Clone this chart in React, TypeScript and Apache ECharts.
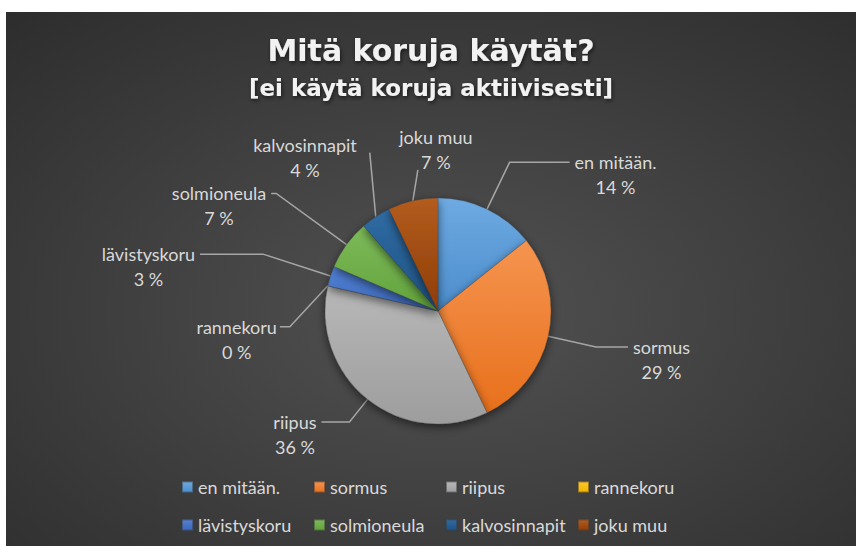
import React, { useEffect, useRef } from 'react';
import * as echarts from 'echarts';

const categories = ['en mitään.', 'sormus', 'riipus', 'rannekoru', 'lävistyskoru', 'solmioneula', 'kalvosinnapit', 'joku muu'];
const counts = [10, 20, 25, 0, 2, 5, 3, 5];
const titleText = 'Mitä koruja käytät?';
const subtitleText = '[ei käytä koruja aktiivisesti]';
const colorsTop = ['#6eaae2', '#f5944f', '#b8b8b8', '#ffc72a', '#5382d6', '#7dba59', '#2f6ba3', '#b35c20'];
const colorsBottom = ['#4b8dcc', '#e8701c', '#9d9d9d', '#f0b400', '#3b67b9', '#62a33c', '#1f5283', '#8f3d05'];
// leader line styling (first segment, second segment) per slice
const leaderLen1 = [52, 49, 29, 20, 71, 87, 80, 40];
const leaderLen2 = [60, 32, 28, 25, 63, 5, 8, 2];

// custom leader styles (relative to the slice's own arc anchor) for a few labels
type Leader = { dx: number; dy: number; stub: number; lx: number; ly: number; align: string; va: string };
const customLeaders: Record<number, Leader> = {
  3: { dx: -38, dy: 41, stub: -10, lx: -3, ly: 0, align: 'right', va: 'middle' },
  6: { dx: -6, dy: -64, stub: 0, lx: -13, ly: -8, align: 'right', va: 'middle' },
  7: { dx: 5, dy: -31, stub: 0, lx: 18, ly: 5, align: 'center', va: 'bottom' },
};

export default function App() {
  const ref = useRef<HTMLDivElement>(null);
  useEffect(() => {
    const chart = echarts.init(ref.current!, undefined, { renderer: 'svg' });
    const font = 'Lato, "Noto Sans", sans-serif';
    const textColor = '#d9d9d9';
    const legends = [0, 1, 2, 3].map((i) => ({
      orient: 'vertical',
      left: 175 + 132 * i,
      top: 465,
      padding: 0,
      itemWidth: 11,
      itemHeight: 11,
      itemGap: 18,
      icon: 'rect',
      data: [categories[i], categories[i + 4]],
      textStyle: { color: textColor, fontSize: 18, fontFamily: font, lineHeight: 20 },
    }));
    chart.setOption({
      animation: false,
      backgroundColor: {
        type: 'radial', x: 0.52, y: 0.56, r: 0.95,
        colorStops: [
          { offset: 0, color: '#525252' },
          { offset: 1, color: '#242424' },
        ],
      },
      title: [
        {
          text: titleText, left: 'center', top: 20, padding: 0,
          textStyle: {
            color: '#f2f2f2', fontFamily: '"DejaVu Sans", sans-serif', fontWeight: 'bold', fontSize: 30, lineHeight: 36,
            textShadowColor: 'rgba(0,0,0,0.6)', textShadowBlur: 4, textShadowOffsetX: 1, textShadowOffsetY: 2,
          },
        },
        {
          text: subtitleText, left: 'center', top: 62, padding: 0,
          textStyle: {
            color: '#f2f2f2', fontFamily: '"DejaVu Sans", sans-serif', fontWeight: 'bold', fontSize: 23, lineHeight: 28,
            textShadowColor: 'rgba(0,0,0,0.6)', textShadowBlur: 4, textShadowOffsetX: 1, textShadowOffsetY: 2,
          },
        },
      ],
      legend: legends,
      series: [
        {
          type: 'pie',
          center: [432, 299],
          radius: 113,
          startAngle: 90,
          clockwise: true,
          percentPrecision: 0,
          avoidLabelOverlap: false,
          data: categories.map((name, i) => ({
            name,
            value: counts[i],
            labelLine: { length: leaderLen1[i], length2: leaderLen2[i] },
            itemStyle: {
              color: {
                type: 'linear', x: 0, y: 0, x2: 0, y2: 1,
                colorStops: [
                  { offset: 0, color: colorsTop[i] },
                  { offset: 1, color: colorsBottom[i] },
                ],
              },
            },
          })),
          itemStyle: {
            borderWidth: 0.5,
            borderColor: 'rgba(60,60,60,0.5)',
            shadowBlur: 10,
            shadowColor: 'rgba(0,0,0,0.55)',
            shadowOffsetY: 3,
          },
          label: {
            show: true,
            position: 'outside',
            formatter: '{n|{b}}\n{p|{d} %}',
            padding: [25, 0, 0, 0],
            rich: {
              n: { align: 'center', color: textColor, fontFamily: font, fontSize: 18, lineHeight: 25 },
              p: { align: 'center', color: textColor, fontFamily: font, fontSize: 18, lineHeight: 25 },
            },
          },
          labelLine: {
            show: true,
            lineStyle: { color: '#a6a6a6', width: 1.5 },
          },
          labelLayout: (params: any) => {
            const c = customLeaders[params.dataIndex];
            const pts = params.labelLinePoints;
            if (!c || !pts) return {};
            const p0 = pts[0];
            const p1 = [p0[0] + c.dx, p0[1] + c.dy];
            const linePts = [p0, p1];
            let end = p1;
            if (c.stub) {
              end = [p1[0] + c.stub, p1[1]];
              linePts.push(end);
            }
            return {
              x: end[0] + c.lx,
              y: end[1] + c.ly,
              align: c.align,
              verticalAlign: c.va,
              labelLinePoints: linePts,
            };
          },
          emphasis: { disabled: true },
        },
      ],
    });
    return () => chart.dispose();
  }, []);
  return <div ref={ref} style={{ position: 'absolute', left: 6, top: 12, width: 850, height: 534 }} />;
}
